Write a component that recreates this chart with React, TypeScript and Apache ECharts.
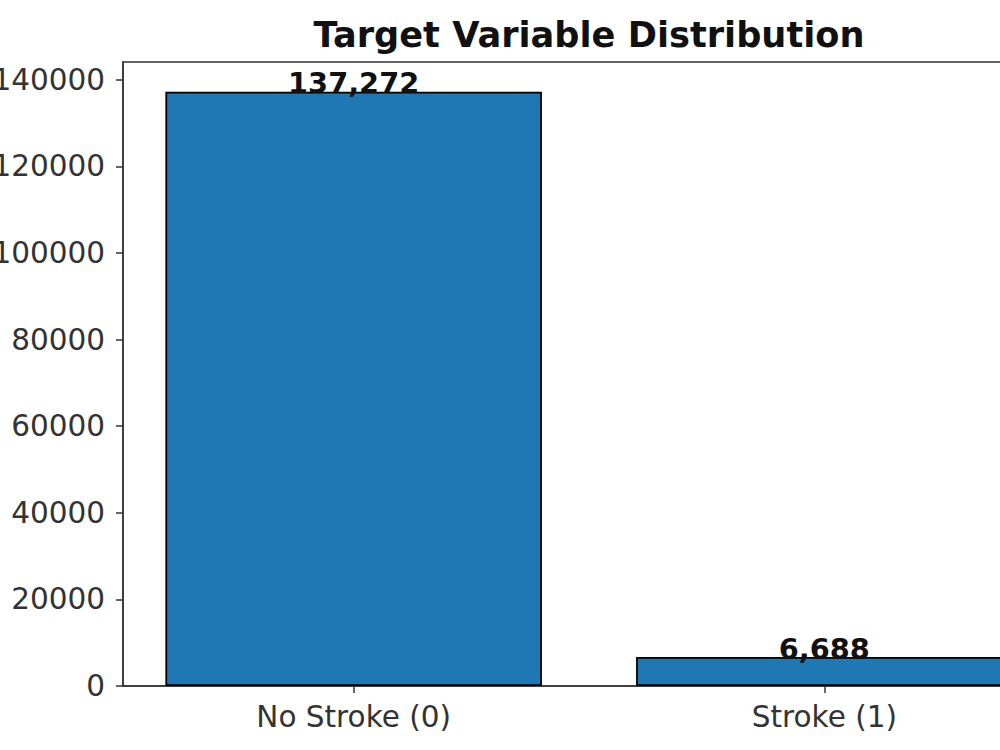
import React, { useEffect, useRef } from "react";
import * as echarts from "echarts";

const categories = ["No Stroke (0)", "Stroke (1)"];
const counts = [137272, 6688];
const yTicks = [0, 20000, 40000, 60000, 80000, 100000, 120000, 140000];
const title = "Target Variable Distribution";

export default function App() {
  const ref = useRef<HTMLDivElement>(null);
  useEffect(() => {
    if (!ref.current) return;
    const chart = echarts.init(ref.current, null, { renderer: "svg" });
    const gridLeft = 123;
    const gridTop = 62;
    const gridWidth = 932;
    const gridHeight = 624;
    const xMin = -0.49;
    const xMax = 1.49;
    const yMax = Math.max(...counts) * 1.05;
    const barW = (0.8 * gridWidth) / (xMax - xMin);
    const font = "DejaVu Sans";
    chart.setOption({
      animation: false,
      backgroundColor: "#ffffff",
      title: {
        text: title,
        left: 584,
        textAlign: "center",
        top: 12,
        textStyle: { fontFamily: font, fontSize: 35.2, fontWeight: "bold", color: "#111111" },
      },
      grid: {
        left: gridLeft,
        top: gridTop,
        width: gridWidth,
        height: gridHeight,
        containLabel: false,
        outerBoundsMode: "none",
        show: true,
        borderColor: "#333333",
        borderWidth: 1.5,
        backgroundColor: "transparent",
      },
      xAxis: {
        type: "value",
        min: xMin,
        max: xMax,
        splitLine: { show: false },
        axisLine: { show: true, onZero: false, lineStyle: { color: "#333333", width: 1.5 } },
        axisTick: { show: true, length: 7, customValues: [0, 1], lineStyle: { color: "#333333", width: 1.5 } },
        axisLabel: {
          customValues: [0, 1],
          formatter: (v: number) => categories[Math.round(v)] ?? "",
          fontFamily: font,
          fontSize: 29.5,
          color: "#333333",
          margin: 16,
        },
      },
      yAxis: {
        type: "value",
        min: 0,
        max: yMax,
        splitLine: { show: false },
        axisLine: { show: true, onZero: false, lineStyle: { color: "#333333", width: 1.5 } },
        axisTick: { show: true, length: 7, customValues: yTicks, lineStyle: { color: "#333333", width: 1.5 } },
        axisLabel: {
          customValues: yTicks,
          formatter: (v: number) => String(v),
          fontFamily: font,
          fontSize: 29.5,
          color: "#333333",
          margin: 18,
        },
      },
      series: [
        {
          type: "bar",
          data: counts.map((c, i) => [i, c]),
          barWidth: barW,
          itemStyle: { color: "#1f77b4", borderColor: "#000000", borderWidth: 1.8 },
          label: {
            show: true,
            position: "top",
            distance: -6,
            formatter: (p: any) => Number(p.value[1]).toLocaleString("en-US"),
            fontFamily: font,
            fontSize: 28.8,
            fontWeight: "bold",
            color: "#111111",
          },
        },
      ],
    });
    return () => chart.dispose();
  }, []);
  return (
    <div
      ref={ref}
      style={{ position: "absolute", left: 0, top: 0, width: 1000, height: 750 }}
    />
  );
}
